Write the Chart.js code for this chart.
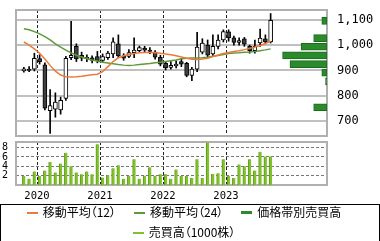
<!DOCTYPE html>
<html>
<head>
<meta charset="utf-8">
<script src="https://cdn.jsdelivr.net/npm/chart.js@4.4.1/dist/chart.umd.min.js"></script>
<style>
body { margin: 0; background: #fff; width: 380px; height: 241px; overflow: hidden; position: relative; font-family: "Noto Sans CJK JP", sans-serif; }
#main { position: absolute; left: 0; top: 0; }
#vol { position: absolute; left: 0; top: 136px; }
#box { position: absolute; left: 0; top: 204px; width: 378px; height: 50px; border: 1px solid #000; }
.row { position: absolute; left: 0; width: 368px; height: 16px; line-height: 16px; text-align: center; font-size: 12px; white-space: nowrap; font-feature-settings: "palt"; color: #000; }
.item { display: inline-block; margin: 0 9px; }
.mk { display: inline-block; width: 11px; vertical-align: middle; margin-right: 5px; position: relative; top: -1px; }
</style>
</head>
<body>
<canvas id="main" width="380" height="140"></canvas>
<canvas id="vol" width="380" height="70"></canvas>
<div id="box"></div>
<div class="row" id="row1" style="top:204px"></div>
<div class="row" id="row2" style="top:224px"></div>
<script>
// monthly data, Oct 2019 .. Sep 2023
const years = ['2020', '2021', '2022', '2023'];
const firstMonth = -3; // Oct 2019, counted from Jan 2020

const open = [898, 905, 905, 947, 922, 742, 748, 745, 790, 950, 995, 960,
    945, 950, 955, 940, 950, 965, 1005, 958, 955, 970, 978, 988,
    980, 972, 952, 928, 912, 918, 935, 928, 880, 905, 972, 1000,
    965, 995, 1020, 1052, 1028, 1010, 1025, 995, 978, 1008, 1025, 1012];
const high = [912, 915, 968, 962, 930, 825, 812, 795, 956, 1093, 1005, 972,
    962, 958, 975, 965, 975, 1028, 1040, 966, 982, 1028, 996, 995,
    990, 978, 960, 935, 935, 938, 945, 932, 912, 1050, 1025, 1020,
    1040, 1040, 1060, 1060, 1035, 1028, 1030, 1000, 1020, 1063, 1040, 1124];
const low = [893, 895, 898, 925, 745, 652, 716, 728, 782, 942, 935, 938,
    935, 930, 930, 935, 943, 950, 950, 940, 950, 950, 972, 972,
    966, 944, 918, 902, 905, 910, 915, 875, 860, 895, 965, 950,
    955, 985, 1012, 1015, 1000, 1000, 995, 968, 968, 995, 1005, 1008];
const close = [906, 900, 948, 935, 752, 762, 776, 782, 948, 960, 945, 948,
    952, 940, 938, 955, 968, 1013, 957, 948, 970, 980, 990, 980,
    975, 952, 925, 910, 920, 925, 925, 880, 905, 992, 1008, 960,
    995, 1020, 1053, 1028, 1010, 1018, 1003, 978, 995, 1027, 1012, 1097];

const ma12 = [1012, 1000, 985, 968, 945, 920, 897, 882, 875, 874, 875, 877,
    880, 883, 885, 895, 915, 935, 950, 958, 963, 967, 970, 971,
    971, 970, 968, 965, 962, 958, 953, 948, 944, 943, 945, 948,
    955, 961, 967, 971, 975, 978, 982, 987, 992, 998, 1006, 1015];
const ma24 = [1064, 1060, 1053, 1044, 1033, 1020, 1005, 992, 980, 969, 960, 953,
    946, 941, 937, 932, 929, 926, 923, 921, 920, 921, 923, 925,
    927, 930, 932, 935, 938, 941, 946, 948, 949, 949, 950, 952,
    956, 959, 963, 967, 969, 970, 972, 973, 975, 978, 981, 985];

// 売買高 (1000株)
const volume = [1.9, 1.35, 2.9, 1.9, 3.1, 4.9, 2.7, 4.6, 6.9, 4.0, 2.7, 2.3,
    2.9, 2.3, 8.7, 1.6, 2.1, 3.6, 4.25, 1.35, 2.0, 5.5, 1.35, 2.0,
    3.8, 2.0, 2.3, 2.3, 1.35, 3.3, 1.9, 1.9, 1.5, 5.5, 1.5, 9.1,
    2.4, 2.5, 5.5, 2.0, 1.5, 4.4, 4.0, 5.5, 3.1, 7.1, 6.1, 6.1];

// 価格帯別売買高
const bandPrice = [667, 701, 735, 769, 803, 837, 871, 905, 939, 973, 1007, 1041, 1075, 1109];
const bandVolume = [0, 0, 0, 18, 0, 0, 2, 7, 50, 60, 35, 18, 0, 7];

const priceTicks = [700, 800, 900, 1000, 1100];
const priceLabels = ['700', '800', '900', '1,000', '1,100'];
const volTicks = [2, 4, 6, 8];

const ma12Color = '#ec7a3a';
const ma24Color = '#5f9a3a';
const vbpColor = '#2b8a2b';
const volColor = '#80c22c';

const monthX = i => firstMonth + i + 0.5;
const yearTicks = scale => { scale.ticks = years.map((y, i) => ({value: i * 12})); };
const noPad = s => { s.paddingTop = 0; s.paddingBottom = 0; s.paddingLeft = 0; s.paddingRight = 0; };

const frame = {
    id: 'frame',
    beforeDatasetsDraw(chart) {
        const {ctx, chartArea: a} = chart;
        ctx.save();
        ctx.strokeStyle = '#b0b0b0';
        ctx.lineWidth = 2;
        ctx.strokeRect(a.left, a.top, a.right - a.left, a.bottom - a.top);
        ctx.restore();
    }
};

const xRange = {type: 'linear', min: -4, max: 55.238, offset: false};

new Chart(document.getElementById('main'), {
    type: 'bar',
    data: {
        datasets: [{
            type: 'line',
            label: '移動平均（12）',
            data: ma12.map((v, i) => ({x: monthX(i), y: v})),
            borderColor: ma12Color,
            borderWidth: 1.5,
            pointRadius: 0
        }, {
            type: 'line',
            label: '移動平均（24）',
            data: ma24.map((v, i) => ({x: monthX(i), y: v})),
            borderColor: ma24Color,
            borderWidth: 1.5,
            pointRadius: 0
        }, {
            label: 'body',
            data: open.map((v, i) => ({x: monthX(i), y: [v, close[i]]})),
            backgroundColor: c => close[c.dataIndex] >= open[c.dataIndex] ? '#ffffff' : '#404040',
            borderColor: '#000',
            borderWidth: 1,
            borderSkipped: false,
            barThickness: 4,
            grouped: false
        }, {
            label: 'wick',
            data: low.map((v, i) => ({x: monthX(i), y: [v, high[i]]})),
            backgroundColor: '#000',
            barThickness: 1,
            grouped: false
        }, {
            label: '価格帯別売買高',
            indexAxis: 'y',
            xAxisID: 'xv',
            yAxisID: 'y',
            data: bandPrice.map((p, i) => ({y: p, x: bandVolume[i]})).filter(d => d.x > 0),
            backgroundColor: vbpColor,
            borderColor: '#1c6a1c',
            borderWidth: 1,
            borderSkipped: false,
            barThickness: 7
        }]
    },
    options: {
        responsive: false,
        animation: false,
        layout: {padding: {left: 16, top: 10, right: 0, bottom: 4}},
        plugins: {legend: {display: false}, tooltip: {enabled: false}},
        scales: {
            x: {
                ...xRange,
                afterBuildTicks: yearTicks,
                afterFit: s => { s.height = 0; noPad(s); },
                ticks: {display: false},
                grid: {color: '#222', lineWidth: 1, drawTicks: false, offset: false},
                border: {display: false, dash: [3, 2]}
            },
            xv: {type: 'linear', axis: 'x', min: 0, max: 420, reverse: true, offset: false, display: false},
            y: {
                position: 'right',
                min: 642,
                max: 1138,
                offset: false,
                afterBuildTicks: s => { s.ticks = priceTicks.map(v => ({value: v})); },
                afterFit: s => { s.width = 53; noPad(s); },
                ticks: {
                    padding: 10,
                    color: '#000',
                    autoSkip: false,
                    font: {family: 'DejaVu Sans Mono', size: 12},
                    callback: (v, i) => priceLabels[i]
                },
                grid: {color: '#c0c0c0', lineWidth: 2, drawTicks: false, offset: false},
                border: {display: false}
            }
        }
    },
    plugins: [frame]
});

new Chart(document.getElementById('vol'), {
    type: 'bar',
    data: {
        datasets: [{
            label: '売買高（1000株）',
            data: volume.map((v, i) => ({x: monthX(i), y: v})),
            backgroundColor: volColor,
            borderColor: '#5e9a17',
            borderWidth: {left: 1, right: 0, top: 0, bottom: 0},
            borderSkipped: false,
            barThickness: 3
        }]
    },
    options: {
        responsive: false,
        animation: false,
        layout: {padding: {left: 0, top: 6, right: 53, bottom: 0}},
        plugins: {legend: {display: false}, tooltip: {enabled: false}},
        scales: {
            x: {
                ...xRange,
                afterBuildTicks: yearTicks,
                afterFit: s => { s.height = 21; noPad(s); },
                ticks: {
                    padding: 5,
                    color: '#000',
                    maxRotation: 0,
                    autoSkip: false,
                    font: {family: 'DejaVu Sans Mono', size: 10.5},
                    callback: v => years[v / 12]
                },
                grid: {color: '#222', lineWidth: 1, drawTicks: false, offset: false},
                border: {display: false, dash: [3, 2]}
            },
            y: {
                min: 0,
                max: 9.2,
                offset: false,
                afterBuildTicks: s => { s.ticks = volTicks.map(v => ({value: v})); },
                afterFit: s => { s.width = 16; noPad(s); },
                ticks: {padding: 8, color: '#000', autoSkip: false, font: {family: 'DejaVu Sans Mono', size: 10}},
                grid: {color: '#777', lineWidth: 1, drawTicks: false, offset: false},
                border: {display: false, dash: [3, 2]}
            }
        }
    },
    plugins: [frame]
});

// legend
const legendItems = [
    {text: '移動平均（12）', color: ma12Color, h: 2, row: 'row1'},
    {text: '移動平均（24）', color: ma24Color, h: 2, row: 'row1'},
    {text: '価格帯別売買高', color: vbpColor, h: 3, row: 'row1'},
    {text: '売買高（1000株）', color: volColor, h: 2, row: 'row2'}
];
legendItems.forEach(it => {
    const span = document.createElement('span');
    span.className = 'item';
    const mk = document.createElement('span');
    mk.className = 'mk';
    mk.style.height = it.h + 'px';
    mk.style.background = it.color;
    span.appendChild(mk);
    span.appendChild(document.createTextNode(it.text));
    document.getElementById(it.row).appendChild(span);
});
</script>
</body>
</html>
